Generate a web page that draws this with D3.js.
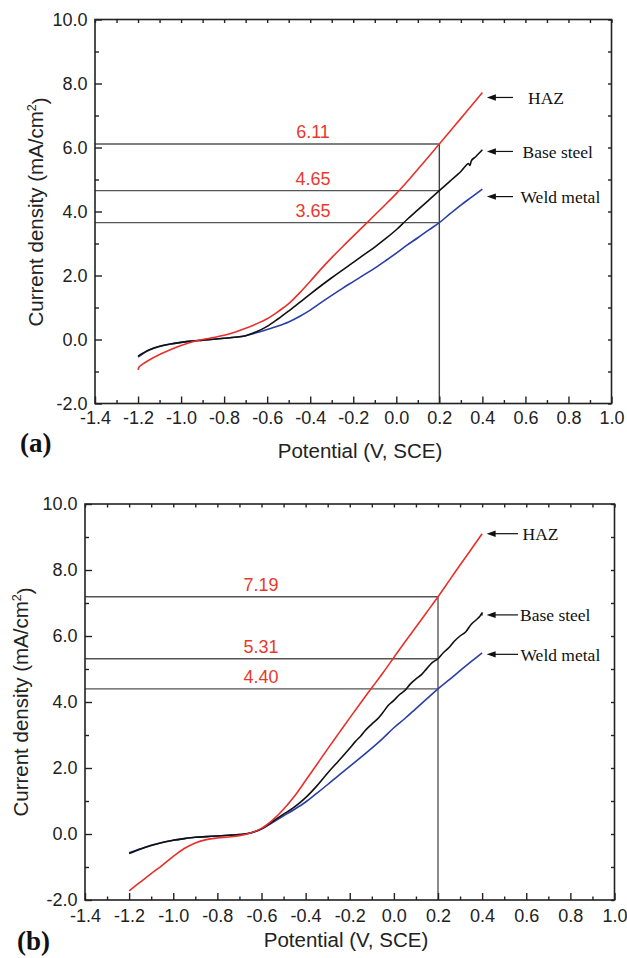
<!DOCTYPE html>
<html>
<head>
<meta charset="utf-8">
<script src="https://cdn.jsdelivr.net/npm/d3@7"></script>
<style>
  html, body { margin: 0; padding: 0; background: #fff; }
  svg { display: block; }
</style>
</head>
<body>
<svg id="fig" width="627" height="958"></svg>
<script>
// ---- data -------------------------------------------------------------
const seriesNames = ["HAZ", "Base steel", "Weld metal"];

const xTicks = [-1.4, -1.2, -1.0, -0.8, -0.6, -0.4, -0.2, 0.0, 0.2, 0.4, 0.6, 0.8, 1.0];
const xMinorTicks = [-1.3, -1.1, -0.9, -0.7, -0.5, -0.3, -0.1, 0.1, 0.3, 0.5, 0.7, 0.9];
const yTicks = [-2, 0, 2, 4, 6, 8, 10];
const yMinorTicks = [-1, 1, 3, 5, 7, 9];
const markPotential = 0.2;

// panel (a): potential (V, SCE) vs current density (mA/cm2)
const hazA = [[-1.2,-0.95],[-1.195,-0.86],[-1.185,-0.8],[-1.15,-0.65],[-1.1,-0.47],[-1.05,-0.32],[-1.0,-0.19],
  [-0.95,-0.08],[-0.9,0.0],[-0.85,0.06],[-0.8,0.13],[-0.75,0.23],[-0.7,0.35],[-0.65,0.49],[-0.6,0.65],
  [-0.55,0.87],[-0.5,1.12],[-0.45,1.45],[-0.4,1.82],[-0.35,2.2],[-0.3,2.56],[-0.25,2.9],[-0.2,3.23],
  [-0.15,3.56],[-0.1,3.89],[-0.05,4.22],[0.0,4.56],[0.05,4.93],[0.1,5.32],[0.15,5.71],[0.2,6.11],
  [0.25,6.51],[0.3,6.91],[0.35,7.31],[0.4,7.72]];
const baseA = [[-1.2,-0.52],[-1.15,-0.33],[-1.1,-0.21],[-1.05,-0.14],[-1.0,-0.09],[-0.95,-0.05],[-0.9,-0.02],
  [-0.85,0.01],[-0.8,0.04],[-0.75,0.07],[-0.7,0.12],[-0.65,0.24],[-0.6,0.41],[-0.55,0.64],[-0.5,0.89],
  [-0.45,1.15],[-0.4,1.42],[-0.35,1.68],[-0.3,1.93],[-0.25,2.17],[-0.2,2.41],[-0.15,2.65],[-0.1,2.89],
  [-0.05,3.15],[0.0,3.43],[0.05,3.75],[0.1,4.05],[0.15,4.35],[0.2,4.65],[0.25,4.95],[0.3,5.25],
  [0.335,5.5],[0.342,5.44],[0.35,5.6],[0.37,5.72],[0.4,5.93]];
const weldA = [[-1.2,-0.55],[-1.15,-0.34],[-1.1,-0.22],[-1.05,-0.14],[-1.0,-0.09],[-0.95,-0.05],[-0.9,-0.02],
  [-0.85,0.01],[-0.8,0.04],[-0.75,0.07],[-0.7,0.12],[-0.65,0.21],[-0.6,0.31],[-0.55,0.42],[-0.5,0.55],
  [-0.45,0.72],[-0.4,0.92],[-0.35,1.15],[-0.3,1.38],[-0.25,1.6],[-0.2,1.81],[-0.15,2.02],[-0.1,2.23],
  [-0.05,2.46],[0.0,2.7],[0.05,2.95],[0.1,3.18],[0.15,3.42],[0.2,3.65],[0.25,3.93],[0.3,4.2],
  [0.35,4.45],[0.4,4.7]];
const markA = [6.11, 4.65, 3.65];

// panel (b)
const hazB = [[-1.2,-1.72],[-1.15,-1.46],[-1.1,-1.2],[-1.05,-0.95],[-1.0,-0.68],[-0.95,-0.44],[-0.9,-0.27],
  [-0.85,-0.17],[-0.8,-0.12],[-0.75,-0.09],[-0.7,-0.05],[-0.65,0.03],[-0.6,0.17],[-0.55,0.42],[-0.5,0.75],
  [-0.45,1.15],[-0.4,1.62],[-0.35,2.1],[-0.3,2.58],[-0.25,3.05],[-0.2,3.52],[-0.15,3.98],[-0.1,4.43],
  [-0.05,4.88],[0.0,5.35],[0.05,5.82],[0.1,6.27],[0.15,6.73],[0.2,7.19],[0.25,7.67],[0.3,8.15],
  [0.35,8.62],[0.4,9.1]];
const baseB = [[-1.2,-0.59],[-1.15,-0.46],[-1.1,-0.35],[-1.05,-0.26],[-1.0,-0.19],[-0.95,-0.14],[-0.9,-0.1],
  [-0.85,-0.08],[-0.8,-0.06],[-0.75,-0.04],[-0.7,-0.02],[-0.65,0.03],[-0.6,0.16],[-0.55,0.38],[-0.5,0.6],
  [-0.45,0.82],[-0.4,1.1],[-0.35,1.45],[-0.3,1.85],[-0.25,2.22],[-0.2,2.6],[-0.175,2.8],[-0.15,2.97],
  [-0.125,3.17],[-0.1,3.33],[-0.075,3.48],[-0.05,3.68],[-0.025,3.9],[0.0,4.05],[0.025,4.22],[0.05,4.35],
  [0.075,4.55],[0.1,4.7],[0.125,4.83],[0.15,5.02],[0.175,5.2],[0.2,5.31],[0.225,5.5],[0.25,5.65],
  [0.275,5.85],[0.3,6.0],[0.325,6.12],[0.35,6.35],[0.375,6.5],[0.39,6.6],[0.4,6.7],[0.398,6.62]];
const weldB = [[-1.2,-0.57],[-1.15,-0.45],[-1.1,-0.34],[-1.05,-0.26],[-1.0,-0.19],[-0.95,-0.14],[-0.9,-0.1],
  [-0.85,-0.08],[-0.8,-0.06],[-0.75,-0.04],[-0.7,-0.02],[-0.65,0.03],[-0.6,0.15],[-0.55,0.35],[-0.5,0.55],
  [-0.45,0.75],[-0.4,0.97],[-0.35,1.23],[-0.3,1.5],[-0.25,1.78],[-0.2,2.05],[-0.15,2.32],[-0.1,2.6],
  [-0.05,2.9],[0.0,3.22],[0.05,3.5],[0.1,3.8],[0.15,4.1],[0.2,4.4],[0.25,4.67],[0.3,4.95],
  [0.35,5.22],[0.4,5.49]];
const markB = [7.19, 5.31, 4.40];

// ---- styling / layout -------------------------------------------------
const seriesColors = ["#e8302a", "#111111", "#2a3fa6"];
const SANS = "'Liberation Sans', Arial, Helvetica, sans-serif";
const SERIF = "'Liberation Serif', 'Times New Roman', serif";

const panels = [
  { tag: "(a)", series: [hazA, baseA, weldA], marks: markA,
    frame: { left: 95, right: 611.5, top: 19.5, bottom: 403.5 },
    xLabelY: 20, xTitle: { x: 360, y: 458 }, yTitle: { x: 43, y: 212 }, tagPos: { x: 20, y: 452 },
    markLabelX: 313, markColor: "#555", vMarkColor: "#444", vMarkWidth: 1.4,
    arrowDy: [5, 1.7, 7.5], textX: [528, 522.5, 520.5], arrowTail: 513 },
  { tag: "(b)", series: [hazB, baseB, weldB], marks: markB,
    frame: { left: 85, right: 614.5, top: 504, bottom: 900 },
    xLabelY: 22, xTitle: { x: 346, y: 947 }, yTitle: { x: 28, y: 702 }, tagPos: { x: 17, y: 950 },
    markLabelX: 261, markColor: "#555", vMarkColor: "#8a8a8a", vMarkWidth: 2,
    arrowDy: [0, 2, 1.5], textX: [522.5, 520, 520.5], arrowTail: 518 }
];

const svg = d3.select("#fig");
const fmt = v => (Math.abs(v) < 1e-9 ? 0 : v).toFixed(1);

panels.forEach(p => {
  const f = p.frame;
  const w = f.right - f.left, h = f.bottom - f.top;
  const x = d3.scaleLinear().domain([xTicks[0], xTicks[xTicks.length - 1]]).range([0, w]);
  const y = d3.scaleLinear().domain([yTicks[0], yTicks[yTicks.length - 1]]).range([h, 0]);
  const g = svg.append("g").attr("transform", `translate(${f.left},${f.top})`);

  // reference lines at the marked potential
  const xm = x(markPotential);
  p.marks.forEach(v => {
    g.append("line").attr("x1", 0).attr("x2", xm).attr("y1", y(v)).attr("y2", y(v))
      .attr("stroke", p.markColor).attr("stroke-width", 1.3);
  });
  g.append("line").attr("x1", xm).attr("x2", xm).attr("y1", h).attr("y2", y(d3.max(p.marks)))
    .attr("stroke", p.vMarkColor).attr("stroke-width", p.vMarkWidth);

  // value labels
  p.marks.forEach(v => {
    g.append("text").attr("x", p.markLabelX - f.left).attr("y", y(v) - 5.5)
      .attr("text-anchor", "middle").attr("fill", "#e8392e")
      .style("font-family", SANS).style("font-size", "18px").text(v.toFixed(2));
  });

  // polarization curves (drawn back to front: weld, base, HAZ)
  const line = d3.line().x(d => x(d[0])).y(d => y(d[1])).curve(d3.curveCatmullRom.alpha(0.5));
  [2, 1, 0].forEach(i => {
    g.append("path").datum(p.series[i]).attr("d", line)
      .attr("fill", "none").attr("stroke", seriesColors[i]).attr("stroke-width", 1.6)
      .attr("stroke-linejoin", "round");
  });

  // frame
  g.append("rect").attr("x", 0).attr("y", 0).attr("width", w).attr("height", h)
    .attr("fill", "none").attr("stroke", "#222").attr("stroke-width", 1.6);

  const styleAxis = sel => {
    sel.select(".domain").remove();
    sel.selectAll("line").attr("stroke", "#222").attr("stroke-width", 1.4);
    sel.selectAll("text").style("font-family", SANS).style("font-size", "18px").attr("fill", "#222");
  };

  // bottom axis: major labelled ticks and minor ticks, pointing inward
  g.append("g").attr("transform", `translate(0,${h})`)
    .call(d3.axisBottom(x).tickValues(xTicks).tickFormat(fmt).tickSize(-7))
    .call(styleAxis)
    .call(s => s.selectAll("text").attr("dy", null).attr("y", p.xLabelY));
  g.append("g").attr("transform", `translate(0,${h})`)
    .call(d3.axisBottom(x).tickValues(xMinorTicks).tickFormat("").tickSize(-3.5)).call(styleAxis);

  // top axis
  g.append("g")
    .call(d3.axisTop(x).tickValues(xTicks.concat(xMinorTicks)).tickFormat("").tickSize(-3.5)).call(styleAxis);

  // left axis
  g.append("g")
    .call(d3.axisLeft(y).tickValues(yTicks).tickFormat(fmt).tickSize(-7))
    .call(styleAxis)
    .call(s => s.selectAll("text").attr("x", -7.5).attr("dy", "0.33em"));
  g.append("g")
    .call(d3.axisLeft(y).tickValues(yMinorTicks).tickFormat("").tickSize(-4)).call(styleAxis);

  // right axis
  g.append("g").attr("transform", `translate(${w},0)`)
    .call(d3.axisRight(y).tickValues(yTicks.concat(yMinorTicks)).tickFormat("").tickSize(-3.5)).call(styleAxis);

  // axis titles
  svg.append("text").attr("x", p.xTitle.x).attr("y", p.xTitle.y).attr("text-anchor", "middle")
    .attr("fill", "#222").style("font-family", SANS).style("font-size", "20.5px")
    .text("Potential (V, SCE)");
  const yt = svg.append("text")
    .attr("transform", `translate(${p.yTitle.x},${p.yTitle.y}) rotate(-90)`)
    .attr("text-anchor", "middle").attr("fill", "#222")
    .style("font-family", SANS).style("font-size", "20.5px");
  yt.append("tspan").text("Current density (mA/cm");
  yt.append("tspan").attr("dy", "-0.55em").style("font-size", "12.5px").text("2");
  yt.append("tspan").attr("dy", "0.55em").text(")");

  // panel tag
  svg.append("text").attr("x", p.tagPos.x).attr("y", p.tagPos.y)
    .attr("fill", "#111").style("font-family", SERIF).style("font-size", "27px")
    .style("font-weight", "bold").text(p.tag);

  // series annotations with arrows
  p.series.forEach((s, i) => {
    const last = s.reduce((a, b) => (b[0] >= a[0] ? b : a));
    const ay = y(last[1]) + p.arrowDy[i];
    const tipX = x(last[0]) + 4.5;
    const tailX = p.arrowTail - f.left;
    g.append("line").attr("x1", tipX + 7).attr("x2", tailX).attr("y1", ay).attr("y2", ay)
      .attr("stroke", "#111").attr("stroke-width", 1.2);
    g.append("path")
      .attr("d", `M${tipX},${ay} L${tipX + 9},${ay - 3.2} L${tipX + 9},${ay + 3.2} Z`)
      .attr("fill", "#111");
    g.append("text").attr("x", p.textX[i] - f.left).attr("y", ay + 6.5)
      .attr("fill", "#111").style("font-family", SERIF).style("font-size", "17.5px")
      .text(seriesNames[i]);
  });
});
</script>
</body>
</html>
